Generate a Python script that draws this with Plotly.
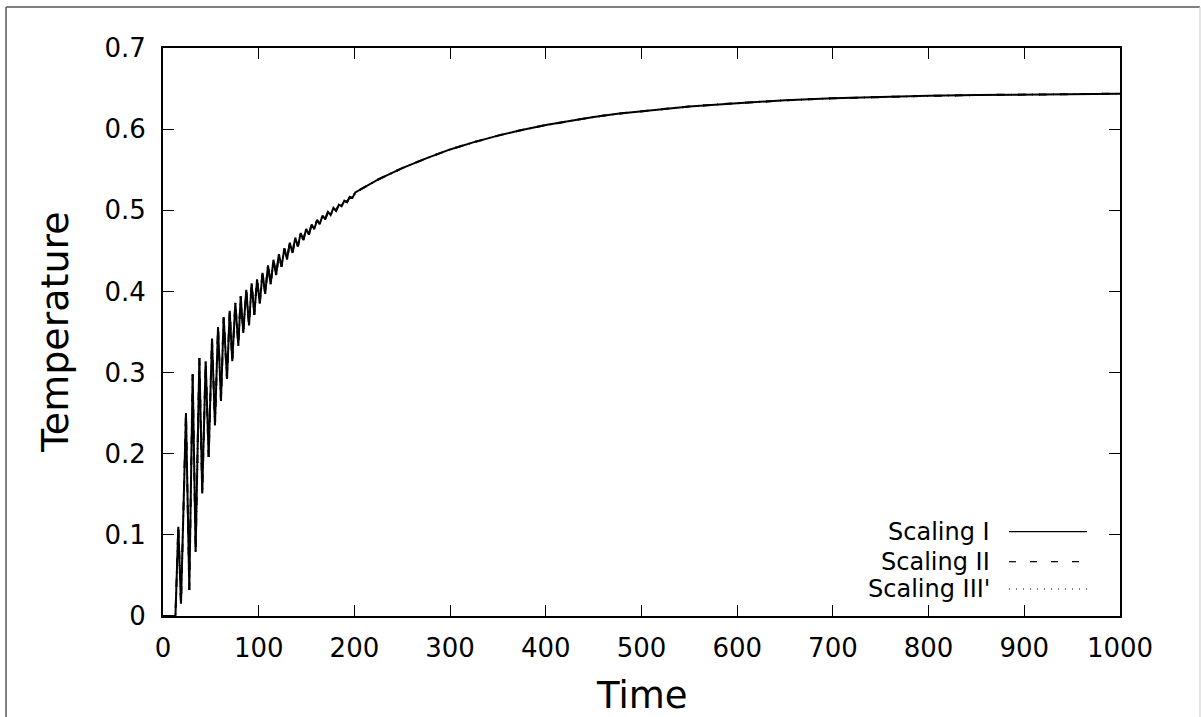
import plotly.graph_objects as go

# ---- data ----
time = [0, 13, 16, 18.8, 24, 27.5, 31, 34.1, 38, 41, 44.6, 47.7, 51.2, 54.3,
        57.5, 60.6, 63.4, 66.9, 69.7, 72.4, 75.6, 78.7, 81.2, 83.9, 87, 89.9,
        92.6, 95.4, 98.3, 101.1, 104.0, 106.8, 109.7, 112.5, 115.4, 118.2,
        121.1, 123.9, 126.8, 129.6, 132.5, 135.3, 138.2, 141.0, 143.9, 146.7,
        149.6, 152.4, 155.3, 158.1, 161.0, 163.8, 166.7, 169.5, 172.4, 175.2,
        178.1, 180.9, 183.8, 186.6, 189.5, 192.3, 195.2, 198.0, 200.9,
        212, 225, 250, 275, 300, 325, 350, 375, 400, 425, 450, 475, 500,
        550, 600, 650, 700, 750, 800, 850, 900, 950, 1000]
temp_scaling_1 = [0, 0, 0.110, 0.015, 0.250, 0.032, 0.298, 0.079, 0.318, 0.151,
                  0.314, 0.196, 0.342, 0.235, 0.356, 0.265, 0.368, 0.292, 0.376,
                  0.314, 0.386, 0.333, 0.394, 0.349, 0.402, 0.358, 0.410, 0.371,
                  0.415, 0.385, 0.423, 0.397, 0.432, 0.409, 0.439, 0.420, 0.446,
                  0.4305, 0.453, 0.4395, 0.460, 0.4475, 0.466, 0.4555, 0.472,
                  0.4635, 0.477, 0.470, 0.4825, 0.477, 0.488, 0.483, 0.4935,
                  0.489, 0.498, 0.494, 0.503, 0.4995, 0.507, 0.505, 0.512, 0.510,
                  0.5165, 0.5155, 0.522,
                  0.529, 0.538, 0.552, 0.564, 0.575, 0.584, 0.592, 0.599, 0.605,
                  0.610, 0.615, 0.619, 0.622, 0.628, 0.632, 0.6355, 0.638,
                  0.6397, 0.641, 0.642, 0.6427, 0.6433, 0.6437]
temp_scaling_2 = list(temp_scaling_1)   # curves coincide in the reference
temp_scaling_3 = list(temp_scaling_1)

series_names = ["Scaling I", "Scaling II", "Scaling III'"]
series_dash = ["solid", "7px,14px", "1px,6px"]

x_ticks = [0, 100, 200, 300, 400, 500, 600, 700, 800, 900, 1000]
y_ticks = [0, 0.1, 0.2, 0.3, 0.4, 0.5, 0.6, 0.7]

FONT = "DejaVu Sans"

fig = go.Figure()
for name, ys, dash in zip(series_names,
                          [temp_scaling_1, temp_scaling_2, temp_scaling_3],
                          series_dash):
    fig.add_trace(go.Scatter(x=time, y=ys, mode="lines", name=name,
                             line=dict(color="black", width=2, dash=dash),
                             showlegend=False))

axis_common = dict(
    showgrid=False, zeroline=False, showline=True, linecolor="black",
    linewidth=2, mirror="ticks", ticks="inside", ticklen=11, tickwidth=1,
    tickcolor="black", tickfont=dict(family=FONT, size=26, color="black"),
)
fig.update_xaxes(range=[0, 1000], tickvals=x_ticks,
                 ticktext=[str(v) for v in x_ticks],
                 ticklabelstandoff=8, **axis_common)
fig.update_yaxes(range=[0, 0.7], tickvals=y_ticks,
                 ticktext=["0" if v == 0 else f"{v:.1f}" for v in y_ticks],
                 ticklabelstandoff=10, **axis_common)

# custom gnuplot-style legend: text on the left, sample on the right
legend_y = [0.1484, 0.0956, 0.0475]
for name, dash, ly in zip(series_names, series_dash, legend_y):
    fig.add_annotation(xref="paper", yref="paper", x=0.8665, y=ly,
                       xanchor="right", yanchor="middle", showarrow=False,
                       text=name, font=dict(family=FONT, size=24, color="black"))
    fig.add_shape(type="line", xref="paper", yref="paper",
                  x0=0.884, x1=0.9655, y0=ly, y1=ly,
                  line=dict(color="black", width=1.2, dash=dash))

# axis titles
fig.add_annotation(xref="paper", yref="paper", x=0.5, y=0, yshift=-56,
                   xanchor="center", yanchor="top", showarrow=False,
                   text="Time", font=dict(family=FONT, size=37, color="black"))
fig.add_annotation(xref="paper", yref="paper", x=0, xshift=-108, y=0.5,
                   xanchor="center", yanchor="middle", showarrow=False,
                   textangle=-90, text="Temperature",
                   font=dict(family=FONT, size=38, color="black"))

# outer frame lines
fig.add_shape(type="line", xref="paper", yref="paper", x0=-0.1640, x1=1.0836,
              y0=1.0722, y1=1.0722, line=dict(color="#555555", width=1.5))
fig.add_shape(type="line", xref="paper", yref="paper", x0=-0.1640, x1=-0.1640,
              y0=1.0722, y1=-0.19, line=dict(color="#555555", width=1.5))
fig.add_shape(type="line", xref="paper", yref="paper", x0=1.0836, x1=1.0836,
              y0=1.0722, y1=-0.19, line=dict(color="#dddddd", width=1.5))

fig.update_layout(
    width=1201, height=717,
    margin=dict(l=163, r=81, t=48, b=101),
    paper_bgcolor="white", plot_bgcolor="white",
    font=dict(family=FONT, color="black"),
)

fig.write_html("out.html",
               config={"displayModeBar": False},
               post_script="document.body.style.margin='0px';"
                           "document.body.style.overflow='hidden';")
